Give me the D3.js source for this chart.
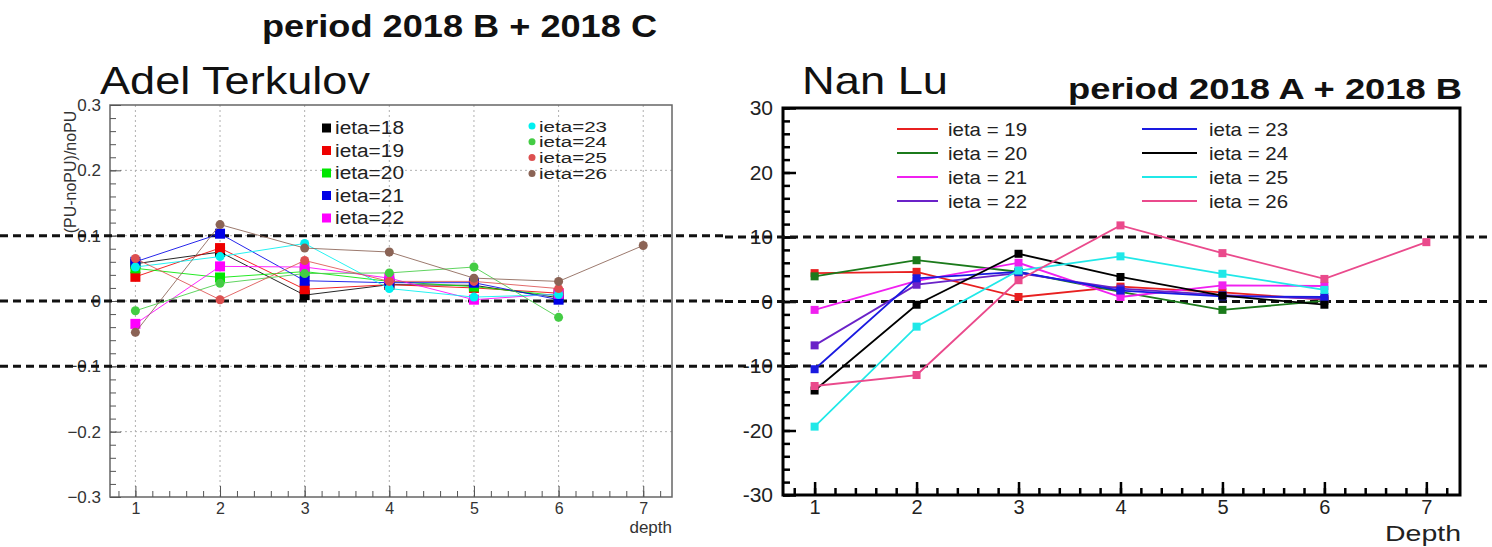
<!DOCTYPE html>
<html lang="en">
<head>
<meta charset="UTF-8"/>
<title>HCAL depth PU comparison</title>
<script src="https://d3js.org/d3.v7.min.js"></script>
<style>
	body { margin: 0; background: #fff; }
	svg { display: block; font-family: "Liberation Sans", Arial, Helvetica, sans-serif; }
	.grid { stroke: #b0b0b0; stroke-width: 1; stroke-dasharray: 2,3; }
	.ref { stroke: #111; stroke-width: 3; stroke-dasharray: 8,5; }
</style>
</head>
<body>
<div id="chart"></div>
<script>
	var w = 1492;
	var h = 547;

	// depth values on x
	var depths = [1, 2, 3, 4, 5, 6, 7];

	// left panel, (PU-noPU)/noPU per depth
	var leftIeta = [18, 19, 20, 21, 22, 23, 24, 25, 26];
	var terkulov18 = [0.057, 0.075, 0.009, 0.025, 0.024, 0.005];
	var terkulov19 = [0.037, 0.081, 0.018, 0.025, 0.020, 0.012];
	var terkulov20 = [0.050, 0.036, 0.045, 0.030, 0.022, 0.008];
	var terkulov21 = [0.060, 0.103, 0.031, 0.028, 0.028, 0.002];
	var terkulov22 = [-0.035, 0.053, 0.052, 0.035, 0.002, 0.011];
	var terkulov23 = [0.052, 0.068, 0.088, 0.019, 0.006, 0.010];
	var terkulov24 = [-0.015, 0.027, 0.042, 0.043, 0.052, -0.025];
	var terkulov25 = [0.065, 0.002, 0.062, 0.030, 0.030, 0.019];
	var terkulov26 = [-0.048, 0.117, 0.081, 0.075, 0.035, 0.030, 0.085];

	// right panel, percent per depth
	var rightIeta = [19, 20, 21, 22, 23, 24, 25, 26];
	var lu19 = [4.4, 4.6, 0.7, 2.3, 1.4, 0.3];
	var lu20 = [3.9, 6.4, 4.6, 1.5, -1.3, 0.1];
	var lu21 = [-1.3, 3.2, 6.0, 0.7, 2.5, 2.4];
	var lu22 = [-6.8, 2.6, 4.4, 2.0, 1.0, 0.4];
	var lu23 = [-10.5, 3.6, 4.6, 1.7, 0.8, 0.7];
	var lu24 = [-13.8, -0.5, 7.4, 3.8, 0.9, -0.5];
	var lu25 = [-19.4, -3.9, 4.8, 7.0, 4.3, 1.8];
	var lu26 = [-13.1, -11.4, 3.3, 11.8, 7.5, 3.5, 9.2];

	var leftTicks = [-0.3, -0.2, -0.1, 0, 0.1, 0.2, 0.3];
	var rightTicks = [-30, -20, -10, 0, 10, 20, 30];
	var refLeft = [0.1, 0, -0.1];
	var refRight = [10, 0, -10];

	var leftColors = ["#000000", "#ee0000", "#00e600", "#0000e6", "#ff00ff",
					  "#00f0f0", "#44cc44", "#dd5050", "#8b6355"];
	var rightColors = ["#e82020", "#1b7a1b", "#f020f0", "#6a22c8",
					   "#1a1ae0", "#000000", "#20e8e8", "#ea4a8c"];

	var leftData = [terkulov18, terkulov19, terkulov20, terkulov21, terkulov22,
					terkulov23, terkulov24, terkulov25, terkulov26];
	var rightData = [lu19, lu20, lu21, lu22, lu23, lu24, lu25, lu26];

	var svg = d3.select("#chart")
				.append("svg")
				.attr("width", w)
				.attr("height", h);

	// stretched text, the source image is wider than the font
	function wideText(x, y, size, len, str, anchor, bold) {
		var t = svg.append("text").attr("x", x).attr("y", y)
			.attr("font-size", size).attr("fill", "#111")
			.attr("textLength", len).attr("lengthAdjust", "spacingAndGlyphs")
			.attr("text-anchor", anchor || "start")
			.text(str);
		if (bold) t.attr("font-weight", "bold");
		return t;
	}

	// ---------- left panel ----------
	var xL = d3.scaleLinear().domain([0.7, 7.34]).range([110, 672]);
	var yL = d3.scaleLinear().domain([-0.3, 0.3]).range([497, 105]);

	wideText(262, 37, 32, 395, "period 2018 B + 2018 C", "start", true);
	wideText(100, 94, 39, 270, "Adel Terkulov");

	var gridL = svg.append("g");
	gridL.selectAll(".gv").data(depths).enter().append("line")
		.attr("class", "grid")
		.attr("x1", function(d){ return xL(d); }).attr("x2", function(d){ return xL(d); })
		.attr("y1", yL(0.3)).attr("y2", yL(-0.3));
	gridL.selectAll(".gh").data([-0.2, -0.1, 0, 0.1, 0.2]).enter().append("line")
		.attr("class", "grid")
		.attr("x1", xL.range()[0]).attr("x2", xL.range()[1])
		.attr("y1", function(d){ return yL(d); }).attr("y2", function(d){ return yL(d); });

	svg.append("rect")
		.attr("x", 110).attr("y", 105).attr("width", 562).attr("height", 392)
		.attr("fill", "none").attr("stroke", "#666").attr("stroke-width", 1.5);

	var yAxisL = d3.axisLeft(yL).tickValues(leftTicks).tickSize(-11).tickPadding(9)
		.tickFormat(function(d){ return d === 0 ? "0" : d3.format(".1f")(d); });
	var gy = svg.append("g").attr("transform", "translate(110,0)").call(yAxisL);
	gy.select(".domain").remove();
	gy.selectAll("line").attr("stroke", "#555");
	gy.selectAll("text").attr("font-size", 17).attr("fill", "#333")
		.attr("font-family", "Liberation Sans, Arial, sans-serif");
	var gym = svg.append("g").attr("transform", "translate(110,0)")
		.call(d3.axisLeft(yL).tickValues(d3.range(-0.3, 0.3001, 0.02)).tickSize(-6).tickFormat(""));
	gym.select(".domain").remove();
	gym.selectAll("line").attr("stroke", "#555");

	var xAxisL = d3.axisBottom(xL).tickValues(depths).tickSize(-11).tickPadding(6)
		.tickFormat(d3.format("d"));
	var gx = svg.append("g").attr("transform", "translate(0,497)").call(xAxisL);
	gx.select(".domain").remove();
	gx.selectAll("line").attr("stroke", "#555");
	gx.selectAll("text").attr("font-size", 16).attr("fill", "#333")
		.attr("font-family", "Liberation Sans, Arial, sans-serif");
	var gxm = svg.append("g").attr("transform", "translate(0,497)")
		.call(d3.axisBottom(xL).tickValues(d3.range(0.8, 7.3, 0.2)).tickSize(-6).tickFormat(""));
	gxm.select(".domain").remove();
	gxm.selectAll("line").attr("stroke", "#555");

	svg.append("text").attr("x", 672).attr("y", 533).attr("text-anchor", "end")
		.attr("font-size", 17).attr("fill", "#333").text("depth");
	svg.append("text").attr("transform", "translate(76,172) rotate(-90)")
		.attr("text-anchor", "middle").attr("font-size", 16).attr("fill", "#333")
		.text("(PU-noPU)/noPU");

	// reference lines across the left half
	svg.selectAll(".refL").data(refLeft).enter().append("line")
		.attr("class", "ref")
		.attr("x1", 0).attr("x2", 725)
		.attr("y1", function(d){ return yL(d); }).attr("y2", function(d){ return yL(d); });

	var lineL = d3.line()
		.x(function(d, i){ return xL(depths[i]); })
		.y(function(d){ return yL(d); });

	leftData.forEach(function(vals, k){
		var g = svg.append("g");
		g.append("path").attr("d", lineL(vals))
			.attr("fill", "none").attr("stroke", leftColors[k]).attr("stroke-width", 1)
			.attr("opacity", 0.85);
		if (k < 5) {
			g.selectAll("rect").data(vals).enter().append("rect")
				.attr("x", function(d, i){ return xL(depths[i]) - 5; })
				.attr("y", function(d){ return yL(d) - 5; })
				.attr("width", 10).attr("height", 10)
				.attr("fill", leftColors[k]);
		} else {
			g.selectAll("circle").data(vals).enter().append("circle")
				.attr("cx", function(d, i){ return xL(depths[i]); })
				.attr("cy", function(d){ return yL(d); })
				.attr("r", 4.5)
				.attr("fill", leftColors[k]);
		}
	});

	// left legends
	var legL1 = svg.append("g");
	leftIeta.slice(0, 5).forEach(function(id, k){
		var y = 128 + k * 22.5;
		legL1.append("rect").attr("x", 322).attr("y", y - 4.5).attr("width", 9).attr("height", 9)
			.attr("fill", leftColors[k]);
		legL1.append("text").attr("x", 335).attr("y", y + 6).attr("font-size", 18)
			.attr("textLength", 69).attr("lengthAdjust", "spacingAndGlyphs")
			.attr("fill", "#222").text("ieta=" + id);
	});
	var legL2 = svg.append("g");
	leftIeta.slice(5).forEach(function(id, k){
		var y = 126 + k * 15.8;
		legL2.append("circle").attr("cx", 532).attr("cy", y).attr("r", 3.5)
			.attr("fill", leftColors[k + 5]);
		legL2.append("text").attr("x", 539).attr("y", y + 5.5).attr("font-size", 15.5)
			.attr("textLength", 68).attr("lengthAdjust", "spacingAndGlyphs")
			.attr("fill", "#222").text("ieta=" + id);
	});

	// ---------- right panel ----------
	var xR = d3.scaleLinear().domain([0.69, 7.33]).range([783, 1460]);
	var yR = d3.scaleLinear().domain([-30, 30]).range([495, 108]);

	wideText(802, 94, 39, 146, "Nan Lu");
	wideText(1462, 99, 30, 394, "period 2018 A + 2018 B", "end", true);

	var yAxisR = d3.axisLeft(yR).tickValues(rightTicks).tickSize(-13).tickPadding(10)
		.tickFormat(function(d){ return String(d); });
	var gyr = svg.append("g").attr("transform", "translate(783,0)").call(yAxisR);
	gyr.select(".domain").remove();
	gyr.selectAll("line").attr("stroke", "#000").attr("stroke-width", 2.5);
	gyr.selectAll("text").attr("font-size", 21).attr("fill", "#222")
		.attr("font-family", "Liberation Sans, Arial, sans-serif");
	var gyrm = svg.append("g").attr("transform", "translate(783,0)")
		.call(d3.axisLeft(yR).tickValues(d3.range(-30, 30.01, 2)).tickSize(-7).tickFormat(""));
	gyrm.select(".domain").remove();
	gyrm.selectAll("line").attr("stroke", "#000").attr("stroke-width", 2.5);

	var xAxisR = d3.axisBottom(xR).tickValues(depths).tickSize(-13).tickPadding(5)
		.tickFormat(d3.format("d"));
	var gxr = svg.append("g").attr("transform", "translate(0,495)").call(xAxisR);
	gxr.select(".domain").remove();
	gxr.selectAll("line").attr("stroke", "#000").attr("stroke-width", 2.5);
	gxr.selectAll("text").attr("font-size", 20).attr("fill", "#222")
		.attr("font-family", "Liberation Sans, Arial, sans-serif");
	var gxrm = svg.append("g").attr("transform", "translate(0,495)")
		.call(d3.axisBottom(xR).tickValues(d3.range(0.8, 7.3, 0.2)).tickSize(-7).tickFormat(""));
	gxrm.select(".domain").remove();
	gxrm.selectAll("line").attr("stroke", "#000").attr("stroke-width", 2.5);

	svg.append("rect")
		.attr("x", 783).attr("y", 108).attr("width", 677).attr("height", 387)
		.attr("fill", "none").attr("stroke", "#000").attr("stroke-width", 3);

	svg.append("text").attr("x", 1461).attr("y", 541).attr("text-anchor", "end")
		.attr("font-size", 22).attr("textLength", 76).attr("lengthAdjust", "spacingAndGlyphs")
		.attr("fill", "#222").text("Depth");

	svg.selectAll(".refR").data(refRight).enter().append("line")
		.attr("class", "ref")
		.attr("x1", 725).attr("x2", w)
		.attr("y1", function(d){ return yR(d); }).attr("y2", function(d){ return yR(d); });

	var lineR = d3.line()
		.x(function(d, i){ return xR(depths[i]); })
		.y(function(d){ return yR(d); });

	rightData.forEach(function(vals, k){
		var g = svg.append("g");
		g.append("path").attr("d", lineR(vals))
			.attr("fill", "none").attr("stroke", rightColors[k]).attr("stroke-width", 1.8);
		g.selectAll("rect").data(vals).enter().append("rect")
			.attr("x", function(d, i){ return xR(depths[i]) - 4; })
			.attr("y", function(d){ return yR(d) - 4; })
			.attr("width", 8).attr("height", 8)
			.attr("fill", rightColors[k]);
	});

	// right legend, two columns of four
	var legR = svg.append("g");
	rightIeta.forEach(function(id, k){
		var col = Math.floor(k / 4), row = k % 4;
		var y = 129 + row * 24;
		var x0 = col === 0 ? 897 : 1142;
		var len = col === 0 ? 41 : 55;
		legR.append("line").attr("x1", x0).attr("x2", x0 + len).attr("y1", y).attr("y2", y)
			.attr("stroke", rightColors[k]).attr("stroke-width", 2);
		legR.append("text").attr("x", col === 0 ? 948 : 1209).attr("y", y + 7)
			.attr("font-size", 19).attr("textLength", 79).attr("lengthAdjust", "spacingAndGlyphs")
			.attr("fill", "#222").text("ieta = " + id);
	});
</script>
</body>
</html>
